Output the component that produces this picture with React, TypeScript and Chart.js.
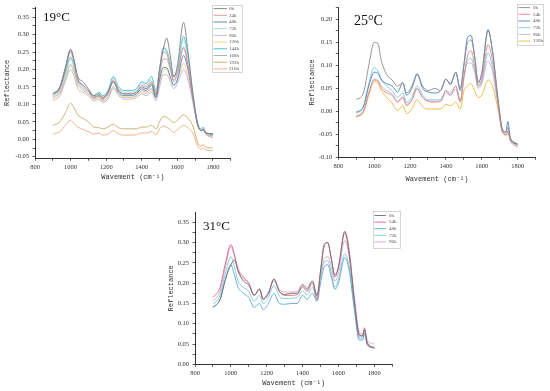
import { useEffect, useRef } from 'react';
import { Chart, registerables } from 'chart.js';

Chart.register(...registerables);

// Wavenumber grid (cm-1) shared by all spectra
const wave = [900, 940, 970, 1000, 1020, 1040, 1070, 1100, 1130, 1160, 1180, 1210, 1240, 1270, 1300, 1340, 1370, 1400, 1425, 1455, 1480, 1500, 1520, 1540, 1560, 1580, 1600, 1635, 1660, 1690, 1715, 1735, 1745, 1760, 1800];

// ---- 19 °C ----
const c19_0h = [0.13, 0.15, 0.2, 0.257, 0.225, 0.18, 0.165, 0.145, 0.125, 0.13, 0.12, 0.135, 0.165, 0.14, 0.13, 0.13, 0.135, 0.15, 0.145, 0.16, 0.125, 0.2, 0.255, 0.29, 0.24, 0.178, 0.21, 0.335, 0.25, 0.12, 0.04, 0.025, 0.028, 0.018, 0.015];
const c19_24h = [0.125, 0.145, 0.2, 0.25, 0.22, 0.17, 0.155, 0.14, 0.12, 0.125, 0.115, 0.13, 0.17, 0.14, 0.13, 0.13, 0.135, 0.155, 0.15, 0.165, 0.13, 0.19, 0.25, 0.245, 0.205, 0.17, 0.19, 0.26, 0.21, 0.11, 0.04, 0.025, 0.03, 0.015, 0.005];
const c19_48h = [0.13, 0.15, 0.205, 0.258, 0.225, 0.175, 0.155, 0.14, 0.12, 0.125, 0.115, 0.13, 0.165, 0.135, 0.125, 0.125, 0.13, 0.145, 0.14, 0.155, 0.12, 0.17, 0.205, 0.205, 0.18, 0.155, 0.17, 0.24, 0.2, 0.11, 0.04, 0.025, 0.028, 0.018, 0.015];
const c19_72h = [0.125, 0.14, 0.185, 0.23, 0.205, 0.165, 0.15, 0.135, 0.12, 0.13, 0.12, 0.135, 0.175, 0.145, 0.135, 0.135, 0.14, 0.16, 0.155, 0.17, 0.135, 0.2, 0.258, 0.25, 0.215, 0.18, 0.2, 0.285, 0.23, 0.115, 0.045, 0.03, 0.033, 0.02, 0.015];
const c19_96h = [0.11, 0.125, 0.165, 0.2, 0.18, 0.145, 0.135, 0.125, 0.11, 0.115, 0.105, 0.115, 0.145, 0.125, 0.115, 0.115, 0.12, 0.13, 0.125, 0.135, 0.11, 0.15, 0.185, 0.185, 0.165, 0.145, 0.16, 0.2, 0.17, 0.1, 0.04, 0.025, 0.03, 0.018, 0.015];
const c19_120h = [0.115, 0.13, 0.17, 0.21, 0.19, 0.155, 0.14, 0.13, 0.115, 0.12, 0.11, 0.12, 0.15, 0.13, 0.12, 0.12, 0.125, 0.135, 0.13, 0.14, 0.115, 0.16, 0.195, 0.2, 0.175, 0.155, 0.17, 0.218, 0.18, 0.105, 0.04, 0.025, 0.03, 0.02, 0.015];
const c19_144h = [0.13, 0.145, 0.19, 0.235, 0.21, 0.17, 0.155, 0.14, 0.125, 0.135, 0.125, 0.14, 0.18, 0.15, 0.14, 0.14, 0.145, 0.165, 0.16, 0.18, 0.14, 0.2, 0.262, 0.255, 0.22, 0.18, 0.2, 0.295, 0.24, 0.12, 0.045, 0.03, 0.035, 0.02, 0.015];
const c19_168h = [0.12, 0.135, 0.175, 0.215, 0.195, 0.16, 0.145, 0.13, 0.115, 0.12, 0.11, 0.12, 0.15, 0.13, 0.12, 0.12, 0.125, 0.14, 0.135, 0.145, 0.12, 0.18, 0.23, 0.23, 0.2, 0.165, 0.185, 0.265, 0.215, 0.11, 0.04, 0.025, 0.03, 0.015, 0.01];
const c19_192h = [0.04, 0.05, 0.075, 0.103, 0.09, 0.07, 0.06, 0.05, 0.035, 0.033, 0.03, 0.035, 0.043, 0.033, 0.03, 0.03, 0.03, 0.035, 0.035, 0.04, 0.03, 0.05, 0.065, 0.063, 0.055, 0.048, 0.055, 0.07, 0.06, 0.035, -0.01, -0.02, -0.015, -0.022, -0.025];
const c19_216h = [0.015, 0.022, 0.04, 0.055, 0.045, 0.035, 0.028, 0.022, 0.015, 0.018, 0.012, 0.015, 0.025, 0.015, 0.012, 0.012, 0.013, 0.018, 0.018, 0.022, 0.013, 0.03, 0.038, 0.035, 0.028, 0.02, 0.027, 0.04, 0.033, 0.015, -0.02, -0.028, -0.025, -0.03, -0.033];

// ---- 25 °C ----
const c25_0h = [0.025, 0.04, 0.1, 0.15, 0.148, 0.11, 0.08, 0.068, 0.055, 0.062, 0.04, 0.055, 0.082, 0.055, 0.045, 0.05, 0.045, 0.07, 0.06, 0.085, 0.05, 0.1, 0.148, 0.155, 0.12, 0.06, 0.085, 0.175, 0.13, 0.03, -0.04, -0.045, -0.035, -0.06, -0.07];
const c25_24h = [-0.012, 0.0, 0.04, 0.068, 0.066, 0.05, 0.04, 0.035, 0.02, 0.03, 0.012, 0.025, 0.05, 0.03, 0.022, 0.02, 0.022, 0.045, 0.035, 0.055, 0.02, 0.075, 0.12, 0.132, 0.1, 0.055, 0.07, 0.145, 0.11, 0.02, -0.045, -0.05, -0.045, -0.065, -0.078];
const c25_48h = [-0.002, 0.01, 0.055, 0.085, 0.083, 0.068, 0.06, 0.055, 0.042, 0.062, 0.035, 0.05, 0.08, 0.05, 0.042, 0.04, 0.045, 0.07, 0.058, 0.085, 0.045, 0.1, 0.16, 0.165, 0.12, 0.065, 0.08, 0.178, 0.13, 0.025, -0.04, -0.045, -0.022, -0.06, -0.072];
const c25_72h = [-0.005, 0.01, 0.06, 0.095, 0.088, 0.07, 0.055, 0.045, 0.03, 0.04, 0.02, 0.03, 0.055, 0.035, 0.025, 0.025, 0.025, 0.045, 0.04, 0.055, 0.025, 0.075, 0.11, 0.115, 0.09, 0.055, 0.065, 0.127, 0.095, 0.02, -0.04, -0.05, -0.042, -0.06, -0.075];
const c25_96h = [-0.01, 0.0, 0.04, 0.07, 0.068, 0.055, 0.045, 0.038, 0.022, 0.032, 0.015, 0.025, 0.048, 0.03, 0.022, 0.022, 0.022, 0.04, 0.035, 0.048, 0.02, 0.07, 0.105, 0.105, 0.085, 0.05, 0.06, 0.11, 0.085, 0.015, -0.045, -0.05, -0.045, -0.062, -0.075];
const c25_120h = [-0.012, -0.002, 0.035, 0.065, 0.062, 0.045, 0.03, 0.018, 0.002, 0.012, -0.005, 0.005, 0.025, 0.01, 0.005, 0.005, 0.005, 0.015, 0.012, 0.02, 0.005, 0.045, 0.055, 0.06, 0.045, 0.03, 0.035, 0.068, 0.055, 0.005, -0.045, -0.052, -0.05, -0.06, -0.072];

// ---- 31 °C ----
const c31_0h = [0.14, 0.16, 0.21, 0.245, 0.257, 0.23, 0.205, 0.195, 0.17, 0.185, 0.16, 0.175, 0.21, 0.18, 0.172, 0.175, 0.175, 0.195, 0.185, 0.205, 0.17, 0.23, 0.295, 0.3, 0.26, 0.22, 0.24, 0.325, 0.27, 0.15, 0.075, 0.07, 0.085, 0.055, 0.04];
const c31_24h = [0.165, 0.19, 0.25, 0.295, 0.27, 0.235, 0.215, 0.2, 0.17, 0.185, 0.16, 0.175, 0.21, 0.18, 0.17, 0.17, 0.172, 0.19, 0.18, 0.2, 0.16, 0.23, 0.29, 0.3, 0.26, 0.215, 0.24, 0.328, 0.28, 0.15, 0.07, 0.07, 0.09, 0.05, 0.04];
const c31_48h = [0.14, 0.16, 0.21, 0.245, 0.22, 0.19, 0.175, 0.165, 0.14, 0.15, 0.135, 0.15, 0.175, 0.15, 0.148, 0.15, 0.15, 0.17, 0.16, 0.175, 0.155, 0.2, 0.24, 0.245, 0.215, 0.185, 0.2, 0.263, 0.23, 0.13, 0.06, 0.06, 0.075, 0.048, 0.04];
const c31_72h = [0.148, 0.17, 0.225, 0.265, 0.24, 0.205, 0.19, 0.18, 0.155, 0.17, 0.15, 0.165, 0.195, 0.168, 0.162, 0.163, 0.165, 0.18, 0.172, 0.19, 0.16, 0.215, 0.252, 0.255, 0.225, 0.19, 0.21, 0.272, 0.24, 0.135, 0.065, 0.065, 0.08, 0.05, 0.042];
const c31_96h = [0.155, 0.18, 0.24, 0.29, 0.265, 0.23, 0.21, 0.2, 0.17, 0.185, 0.162, 0.18, 0.205, 0.185, 0.178, 0.178, 0.18, 0.198, 0.19, 0.205, 0.168, 0.22, 0.26, 0.265, 0.24, 0.205, 0.225, 0.305, 0.265, 0.16, 0.08, 0.075, 0.085, 0.06, 0.05];

// Tick labels
const xMajor = [800, 1000, 1200, 1400, 1600, 1800];
const yMajor19 = [-0.05, 0, 0.05, 0.1, 0.15, 0.2, 0.25, 0.3, 0.35];
const yMajor25 = [-0.1, -0.05, 0, 0.05, 0.1, 0.15, 0.2];
const yMajor31 = [0, 0.05, 0.1, 0.15, 0.2, 0.25, 0.3, 0.35];

const TICK_FONT = { family: '"Liberation Serif", serif', size: 6.5 };
const TITLE_FONT = { family: '"Liberation Mono", monospace', size: 7 };
const INK = '#333333';

function withMinor(major: number[], half: number, lo: number, hi: number) {
  const vals: number[] = [];
  if (major[0] - half >= lo - 1e-9) vals.push(major[0] - half);
  major.forEach((v) => {
    vals.push(v);
    if (v + half <= hi + 1e-9) vals.push(v + half);
  });
  return vals.map((v) => ({ value: +v.toFixed(4) }));
}
const isMajor = (major: number[], v: number) => major.some((m) => Math.abs(m - v) < 1e-6);

const overlay = {
  id: 'overlay',
  afterDraw(chart: any, _args: any, o: any) {
    const ctx = chart.ctx;
    ctx.save();
    ctx.fillStyle = '#111';
    ctx.font = `${o.tempSize}px "Liberation Serif", serif`;
    ctx.textBaseline = 'alphabetic';
    ctx.textAlign = 'left';
    ctx.fillText(o.temp, o.tempX, o.tempY);
    const b = o.box;
    ctx.strokeStyle = '#c4c4c4';
    ctx.lineWidth = 0.7;
    ctx.strokeRect(b.x + 0.5, b.y + 0.5, b.w, b.h);
    ctx.font = '5px "Liberation Serif", serif';
    ctx.textBaseline = 'middle';
    chart.data.datasets.forEach((d: any, i: number) => {
      const y = b.y + b.first + i * b.row;
      ctx.strokeStyle = d.borderColor;
      ctx.lineWidth = 0.9;
      ctx.beginPath();
      ctx.moveTo(b.x + 1.5, y);
      ctx.lineTo(b.x + b.line, y);
      ctx.stroke();
      ctx.fillStyle = '#555';
      ctx.fillText(d.label, b.x + b.text, y);
    });
    ctx.restore();
  },
};

type Series = { name: string; data: number[]; color: string };
type PanelDef = {
  temp: string; tempX: number; tempY: number; tempSize: number;
  series: Series[];
  yMajor: number[]; yMin: number; yMax: number;
  left: number; top: number; width: number; height: number;
  areaLeft: number; areaRight: number; areaTop: number; areaBottom: number;
  yTitlePad: number; xTitlePad: number;
  box: { x: number; y: number; w: number; h: number; first: number; row: number; line: number; text: number };
};

const panels: PanelDef[] = [
  {
    temp: '19°C', tempX: 43, tempY: 21, tempSize: 13,
    series: [
      { name: '0h', data: c19_0h, color: '#7f7f7f' },
      { name: '24h', data: c19_24h, color: '#e38b8b' },
      { name: '48h', data: c19_48h, color: '#4e7fb5' },
      { name: '72h', data: c19_72h, color: '#9fd5e3' },
      { name: '96h', data: c19_96h, color: '#b9b5e3' },
      { name: '120h', data: c19_120h, color: '#f4cd7d' },
      { name: '144h', data: c19_144h, color: '#35c0cc' },
      { name: '168h', data: c19_168h, color: '#aaaaaa' },
      { name: '192h', data: c19_192h, color: '#c6ad66' },
      { name: '216h', data: c19_216h, color: '#f3a97c' },
    ],
    yMajor: yMajor19, yMin: -0.0545, yMax: 0.378,
    left: 0, top: 0, width: 275, height: 185,
    areaLeft: 35, areaRight: 230.7, areaTop: 5, areaBottom: 158.3,
    yTitlePad: 2.8, xTitlePad: 3.6,
    box: { x: 212, y: 5, w: 30, h: 67, first: 3.6, row: 6.7, line: 15, text: 17 },
  },
  {
    temp: '25°C', tempX: 79, tempY: 25, tempSize: 14,
    series: [
      { name: '0h', data: c25_0h, color: '#8a8a8a' },
      { name: '24h', data: c25_24h, color: '#e88585' },
      { name: '48h', data: c25_48h, color: '#4a80c4' },
      { name: '72h', data: c25_72h, color: '#7ccad6' },
      { name: '96h', data: c25_96h, color: '#c2b4d4' },
      { name: '120h', data: c25_120h, color: '#eab53a' },
    ],
    yMajor: yMajor25, yMin: -0.1, yMax: 0.226,
    left: 275, top: 0, width: 275, height: 185,
    areaLeft: 63.3, areaRight: 260.6, areaTop: 5, areaBottom: 157.3,
    yTitlePad: 33.2, xTitlePad: 1.6,
    box: { x: 242, y: 4, w: 26, h: 41, first: 3.6, row: 6.7, line: 13, text: 16 },
  },
  {
    temp: '31°C', tempX: 63, tempY: 35, tempSize: 13,
    series: [
      { name: '0h', data: c31_0h, color: '#6e6e6e' },
      { name: '24h', data: c31_24h, color: '#d9627d' },
      { name: '48h', data: c31_48h, color: '#5aa5da' },
      { name: '72h', data: c31_72h, color: '#7ccad5' },
      { name: '96h', data: c31_96h, color: '#d9a6c8' },
    ],
    yMajor: yMajor31, yMin: 0, yMax: 0.3746,
    left: 140, top: 195, width: 270, height: 196,
    areaLeft: 55, areaRight: 252.3, areaTop: 17.3, areaBottom: 169.3,
    yTitlePad: 26.5, xTitlePad: 3.4,
    box: { x: 233, y: 16, w: 27, h: 37, first: 4.5, row: 6.6, line: 13, text: 16 },
  },
];

function makeConfig(p: PanelDef): any {
  return {
    type: 'line',
    data: {
      datasets: p.series.map((s) => ({
        label: s.name,
        data: wave.map((x, i) => ({ x, y: s.data[i] })),
        borderColor: s.color,
        backgroundColor: s.color,
        borderWidth: 0.9,
        pointRadius: 0,
        cubicInterpolationMode: 'monotone',
        fill: false,
      })),
    },
    options: {
      responsive: false,
      maintainAspectRatio: false,
      animation: false,
      devicePixelRatio: 1,
      layout: { padding: { left: 0, top: p.areaTop, right: p.width - p.areaRight, bottom: 0 } },
      plugins: {
        legend: { display: false },
        tooltip: { enabled: false },
        overlay: { temp: p.temp, tempX: p.tempX, tempY: p.tempY, tempSize: p.tempSize, box: p.box },
      },
      scales: {
        x: {
          type: 'linear',
          min: 800,
          max: 1900,
          afterBuildTicks: (s: any) => { s.ticks = withMinor(xMajor, 100, 800, 1900); },
          afterFit: (s: any) => { s.height = p.height - p.areaBottom; },
          ticks: {
            autoSkip: false, maxRotation: 0, padding: 2.5, color: INK, font: TICK_FONT,
            callback: (v: number) => (isMajor(xMajor, v) ? String(v) : ''),
          },
          grid: { drawOnChartArea: false, drawTicks: true, tickLength: 2.5, color: INK, lineWidth: 0.8 },
          border: { display: true, color: INK, width: 1 },
          title: { display: true, text: 'Wavement (cm⁻¹)', color: INK, font: TITLE_FONT, padding: { top: 2, bottom: p.xTitlePad } },
        },
        y: {
          type: 'linear',
          min: p.yMin,
          max: p.yMax,
          afterBuildTicks: (s: any) => { s.ticks = withMinor(p.yMajor, 0.025, p.yMin, p.yMax); },
          afterFit: (s: any) => { s.width = p.areaLeft; },
          ticks: {
            autoSkip: false, padding: 3.5, color: INK, font: TICK_FONT,
            callback: (v: number) => (isMajor(p.yMajor, v) ? v.toFixed(2) : ''),
          },
          grid: { drawOnChartArea: false, drawTicks: true, tickLength: 2.5, color: INK, lineWidth: 0.8 },
          border: { display: true, color: INK, width: 1 },
          title: { display: true, text: 'Reflectance', color: INK, font: TITLE_FONT, padding: { top: p.yTitlePad, bottom: 2 } },
        },
      },
    },
    plugins: [overlay],
  };
}

function Panel({ p }: { p: PanelDef }) {
  const ref = useRef<HTMLCanvasElement | null>(null);
  useEffect(() => {
    if (!ref.current) return;
    const chart = new Chart(ref.current, makeConfig(p));
    return () => chart.destroy();
  }, [p]);
  return (
    <canvas
      ref={ref}
      width={p.width}
      height={p.height}
      style={{ position: 'absolute', left: p.left, top: p.top, width: p.width, height: p.height }}
    />
  );
}

export default function App() {
  return (
    <div style={{ position: 'fixed', left: 0, top: 0, width: 550, height: 391, background: '#fff', overflow: 'hidden' }}>
      {panels.map((p) => (
        <Panel key={p.temp} p={p} />
      ))}
    </div>
  );
}
